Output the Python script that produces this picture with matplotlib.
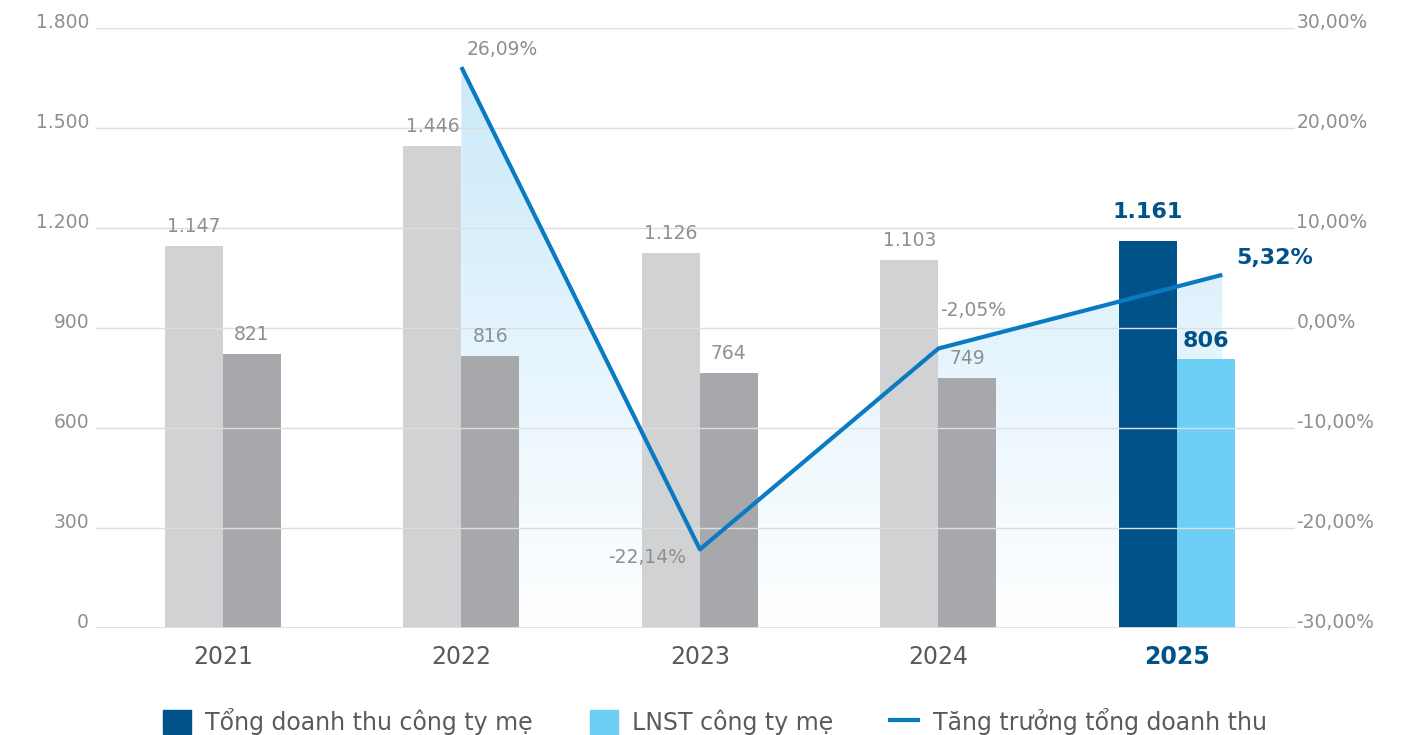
import matplotlib.pyplot as plt
import numpy as np
from matplotlib.patches import Patch, Polygon
from matplotlib.lines import Line2D

years = ["2021", "2022", "2023", "2024", "2025"]
revenue = [1147, 1446, 1126, 1103, 1161]
profit = [821, 816, 764, 749, 806]
growth = [26.09, -22.14, -2.05, 5.32]  # 2022..2025
left_ticks = [0, 300, 600, 900, 1200, 1500, 1800]
right_ticks = [-30, -20, -10, 0, 10, 20, 30]
legend_labels = ["Tổng doanh thu công ty mẹ", "LNST công ty mẹ", "Tăng trưởng tổng doanh thu"]

GREY_TXT = "#8e8f91"
DARK_BLUE = "#02528a"
LIGHT_BLUE = "#6dcff6"
LINE_BLUE = "#0a7bc1"


def vn_num(v):
    return f"{v:,}".replace(",", ".")


def vn_pct(v):
    return f"{v:.2f}%".replace(".", ",")


plt.rcParams['font.family'] = ['DejaVu Sans']
plt.rcParams['ytick.alignment'] = 'baseline'

fig = plt.figure(figsize=(14.07, 7.35), dpi=100)
ax = fig.add_axes([0.0682, 0.1456, 0.8522, 0.8163])
ax2 = ax.twinx()

x = np.arange(len(years))
w = 0.243
rev_colors = ["#d1d2d4"] * 4 + [DARK_BLUE]
pro_colors = ["#a7a8ab"] * 4 + [LIGHT_BLUE]
ax.bar(x - w / 2, revenue, w, color=rev_colors, zorder=2)
ax.bar(x + w / 2, profit, w, color=pro_colors, zorder=2)

# growth line starts at 2022; last point sits a bit right of the group centre
gx = x[1:].astype(float)
gx[-1] += 0.19

# gradient area under the growth line, drawn behind the bars
top = np.array([0.78, 0.91, 0.98])
t = np.linspace(0, 1, 256)[:, None]
img = np.ones((256, 1, 3)) * (top + (1 - top) * t)[:, None, :]
im = ax.imshow(img, extent=[0, 1, 0, 1], transform=ax.transAxes, aspect='auto', zorder=0.5)
verts = [(gx[0], -30)] + list(zip(gx, growth)) + [(gx[-1], -30)]
poly = Polygon(verts, closed=True, transform=ax2.transData)
im.set_clip_path(poly)

ax2.plot(gx, growth, color=LINE_BLUE, lw=3, solid_capstyle='butt', zorder=3)

ax.set_xlim(-0.532, 4.495)
ax.set_ylim(0, 1800)
ax2.set_ylim(-30, 30)

ax.set_yticks(left_ticks)
ax.set_yticklabels([vn_num(v) for v in left_ticks])
ax2.set_yticks(right_ticks)
ax2.set_yticklabels([vn_pct(v) for v in right_ticks])
ax.tick_params(axis='y', length=0, pad=5, labelcolor=GREY_TXT, labelsize=13.5)
ax2.tick_params(axis='y', length=0, pad=1, labelcolor=GREY_TXT, labelsize=13.5)

ax.set_xticks(x)
ax.set_xticklabels(years)
ax.tick_params(axis='x', length=0, pad=12, labelcolor="#58595b", labelsize=17)
last = ax.get_xticklabels()[-1]
last.set_color(DARK_BLUE)
last.set_fontweight('bold')

ax.yaxis.grid(True, color="#dedede", lw=1)
ax.set_axisbelow(False)
ax.axhline(0, color="#e0e0e0", lw=2, zorder=3)
for a in (ax, ax2):
    for s in a.spines.values():
        s.set_visible(False)

# value labels
for i in range(4):
    ax.annotate(vn_num(revenue[i]), (x[i] - w / 2, revenue[i]), xytext=(0, 14),
                textcoords='offset points', ha='center', va='center',
                color=GREY_TXT, fontsize=13.5)
    ax.annotate(vn_num(profit[i]), (x[i] + w / 2, profit[i]), xytext=(0, 14),
                textcoords='offset points', ha='center', va='center',
                color=GREY_TXT, fontsize=13.5)
ax.annotate(vn_num(revenue[4]), (x[4] - w / 2, revenue[4]), xytext=(0, 21),
            textcoords='offset points', ha='center', va='center',
            color=DARK_BLUE, fontsize=16, fontweight='bold')
ax.annotate(vn_num(profit[4]), (x[4] + w / 2, profit[4]), xytext=(0, 13),
            textcoords='offset points', ha='center', va='center',
            color=DARK_BLUE, fontsize=16, fontweight='bold')

pct_offsets = [(4, 13, 'left'), (-10, -6, 'right'), (1, 27, 'left')]
for (dx, dy, ha), gxv, gv in zip(pct_offsets, gx[:3], growth[:3]):
    ax2.annotate(vn_pct(gv), (gxv, gv), xytext=(dx, dy), textcoords='offset points',
                 ha=ha, va='center', color=GREY_TXT, fontsize=13.5)
ax2.annotate(vn_pct(growth[3]), (gx[3], growth[3]), xytext=(10, 12),
             textcoords='offset points', ha='left', va='center',
             color=DARK_BLUE, fontsize=16, fontweight='bold')

handles = [Patch(color=DARK_BLUE), Patch(color=LIGHT_BLUE),
           Line2D([], [], color=LINE_BLUE, lw=3)]
fig.legend(handles, legend_labels, loc='center', bbox_to_anchor=(0.508, 0.018),
           ncol=3, frameon=False, fontsize=17, handlelength=1.2, handleheight=1.2,
           columnspacing=2.4, handletextpad=0.6, labelcolor="#5a5b5d")

fig.savefig("out.png", dpi=100)
